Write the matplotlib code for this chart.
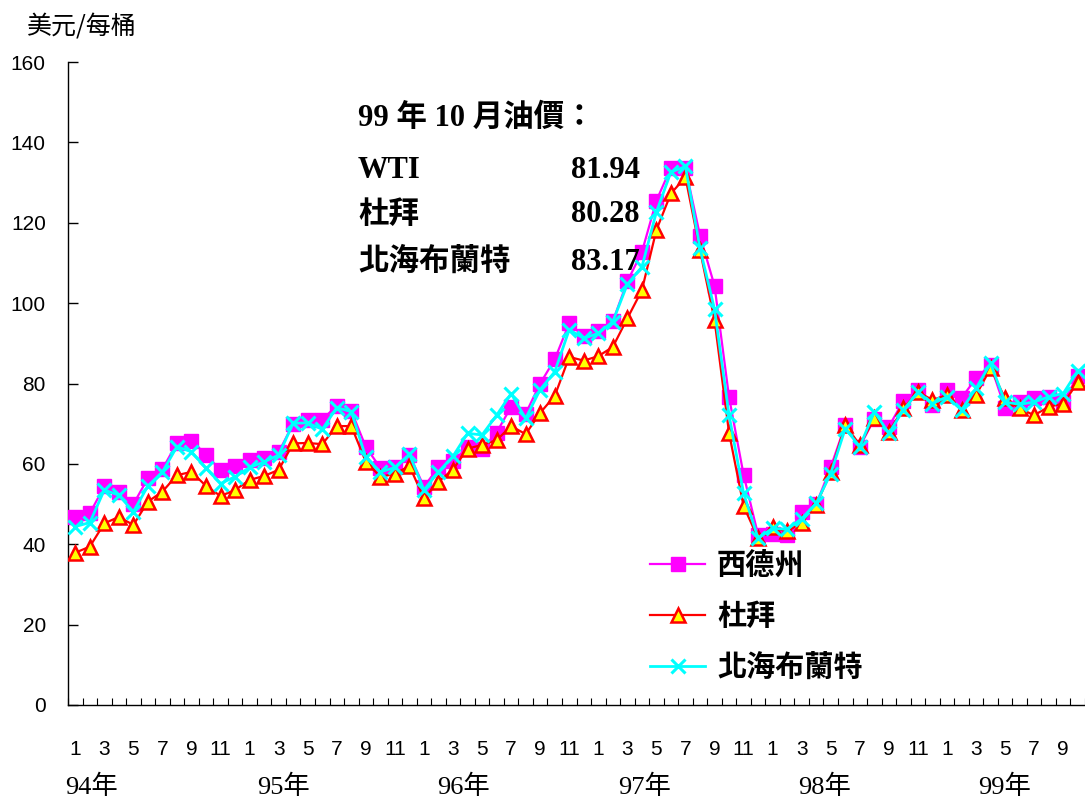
import matplotlib
matplotlib.use("Agg")
import matplotlib.pyplot as plt
import numpy as np

# ---------------- data ----------------
month_labels = ["1", "3", "5", "7", "9", "11"] * 5 + ["1", "3", "5", "7", "9"]
year_labels = ["94年", "95年", "96年", "97年", "98年", "99年"]

wti = [46.8, 47.7, 54.4, 53.0, 50.0, 56.4, 58.7, 65.2, 65.8, 62.3, 58.4, 59.5,
       61.0, 61.5, 62.9, 70.0, 70.9, 71.0, 74.5, 73.2, 64.2, 59.0, 59.2, 62.3,
       54.3, 59.2, 60.6, 64.2, 63.6, 67.8, 74.2, 72.5, 80.0, 86.0, 95.0, 91.7,
       93.1, 95.5, 105.4, 112.7, 125.5, 133.7, 133.6, 116.8, 104.3, 76.6, 57.3, 42.3,
       42.6, 42.3, 48.0, 49.9, 59.2, 69.7, 64.3, 71.2, 69.3, 75.7, 78.3, 74.6,
       78.4, 76.4, 81.3, 84.6, 73.8, 75.4, 76.3, 76.6, 75.3, 81.94]

dubai = [37.9, 39.4, 45.2, 46.8, 44.8, 50.6, 53.1, 57.2, 58.0, 54.5, 52.0, 53.5,
         56.0, 57.0, 58.5, 65.1, 65.2, 64.9, 69.4, 69.4, 60.5, 56.8, 57.5, 59.5,
         51.4, 55.6, 58.6, 63.8, 64.7, 65.9, 69.4, 67.4, 72.7, 76.9, 86.6, 85.7,
         86.8, 89.1, 96.2, 103.2, 118.2, 127.3, 131.3, 113.2, 95.8, 67.7, 49.5, 41.5,
         44.2, 43.2, 45.4, 49.8, 58.0, 69.7, 64.7, 71.3, 68.0, 73.8, 77.9, 75.9,
         77.1, 73.4, 77.1, 83.8, 76.3, 73.8, 72.1, 74.2, 75.0, 80.28]

brent = [44.4, 45.4, 53.5, 52.2, 48.1, 54.5, 58.0, 64.3, 63.0, 58.9, 55.1, 56.8,
         59.1, 60.5, 62.2, 70.1, 70.2, 68.6, 74.0, 73.0, 61.6, 58.0, 59.1, 62.4,
         53.5, 58.0, 61.9, 67.6, 67.2, 72.1, 77.5, 71.3, 78.5, 82.9, 93.4, 91.2,
         92.5, 95.4, 104.7, 109.0, 122.7, 132.6, 134.0, 113.6, 98.5, 72.1, 52.7, 41.5,
         44.0, 43.7, 46.4, 50.2, 57.6, 68.8, 64.3, 73.0, 67.6, 73.4, 77.9, 75.0,
         76.7, 73.4, 78.8, 85.0, 75.4, 74.8, 75.4, 76.7, 77.5, 83.17]

series_names = ["西德州", "杜拜", "北海布蘭特"]
note_title = "99 年 10 月油價："
note_values = ["81.94", "80.28", "83.17"]
note_names = ["WTI", "杜拜", "北海布蘭特"]

# ---------------- figure ----------------
W, H = 1085, 800
fig = plt.figure(figsize=(W / 100, H / 100), dpi=100)
ax = fig.add_axes([68 / W, 1 - 705 / H, 1 - 68 / W, (705 - 62) / H])

x = np.arange(len(wti))
cjk = ["Noto Sans CJK TC", "DejaVu Sans"]
serif_cjk = ["Liberation Serif", "Noto Sans CJK TC"]

ax.plot(x, wti, color="#FF00FF", lw=1.6, marker="s", ms=9.5,
        mfc="#FF00FF", mec="#FF00FF", label=series_names[0], zorder=3)
ax.plot(x, dubai, color="#FF0000", lw=1.6, marker="^", ms=10,
        mfc="#FFFF00", mec="#FF0000", mew=1.8, label=series_names[1], zorder=4)
ax.plot(x, brent, color="#00FFFF", lw=2.0, marker="x", ms=10,
        mec="#00FFFF", mew=2.2, label=series_names[2], zorder=5)

ax.set_xlim(-0.5, len(wti) - 0.5)
ax.set_ylim(0, 160)
ax.set_yticks(np.arange(0, 161, 20))
ax.tick_params(axis="y", direction="in", length=7, width=1, pad=16,
               labelsize=15)
for t in ax.get_yticklabels():
    t.set_fontfamily(["Liberation Sans", "DejaVu Sans"])

ax.set_xticks(x[::2])
ax.set_xticklabels(month_labels, fontsize=15,
                   family=["Liberation Sans Narrow", "Liberation Sans", "DejaVu Sans"])
ax.set_xticks(np.arange(-0.5, len(wti), 1), minor=True)
ax.tick_params(axis="x", which="major", length=0, pad=25)
ax.tick_params(axis="x", which="minor", direction="in", length=5, width=0.8)

for s in ["top", "right"]:
    ax.spines[s].set_visible(False)
ax.spines["left"].set_linewidth(1)
ax.spines["bottom"].set_linewidth(1)

# year labels
year_px = [91, 284, 463, 645, 825, 1005]
for lab, px in zip(year_labels, year_px):
    fig.text(px / W, 1 - 787 / H, lab, ha="center", va="center",
             fontsize=19, family=serif_cjk)

# y-axis unit
fig.text(27 / W, 1 - 27 / H, "美元/每桶", ha="left", va="center",
         fontsize=18, family=cjk)

# annotation
fig.text(358 / W, 1 - 118 / H, note_title, ha="left", va="center",
         fontsize=22, weight="bold", family=serif_cjk)
for i, (nm, val) in enumerate(zip(note_names, note_values)):
    yy = [170, 215, 262][i]
    fig.text(358 / W, 1 - yy / H, nm, ha="left", va="center",
             fontsize=22, weight="bold", family=serif_cjk)
    fig.text(640 / W, 1 - yy / H, val, ha="right", va="center",
             fontsize=22, weight="bold", family=serif_cjk)

leg = ax.legend(loc="upper left", bbox_to_anchor=(650 / W, 1 - 550 / H),
                bbox_transform=fig.transFigure, frameon=False,
                prop={"family": cjk, "size": 21, "weight": "bold"},
                handlelength=1.9, handletextpad=0.4, labelspacing=0.72,
                borderpad=0, borderaxespad=0)

fig.savefig("out.png", dpi=100)
